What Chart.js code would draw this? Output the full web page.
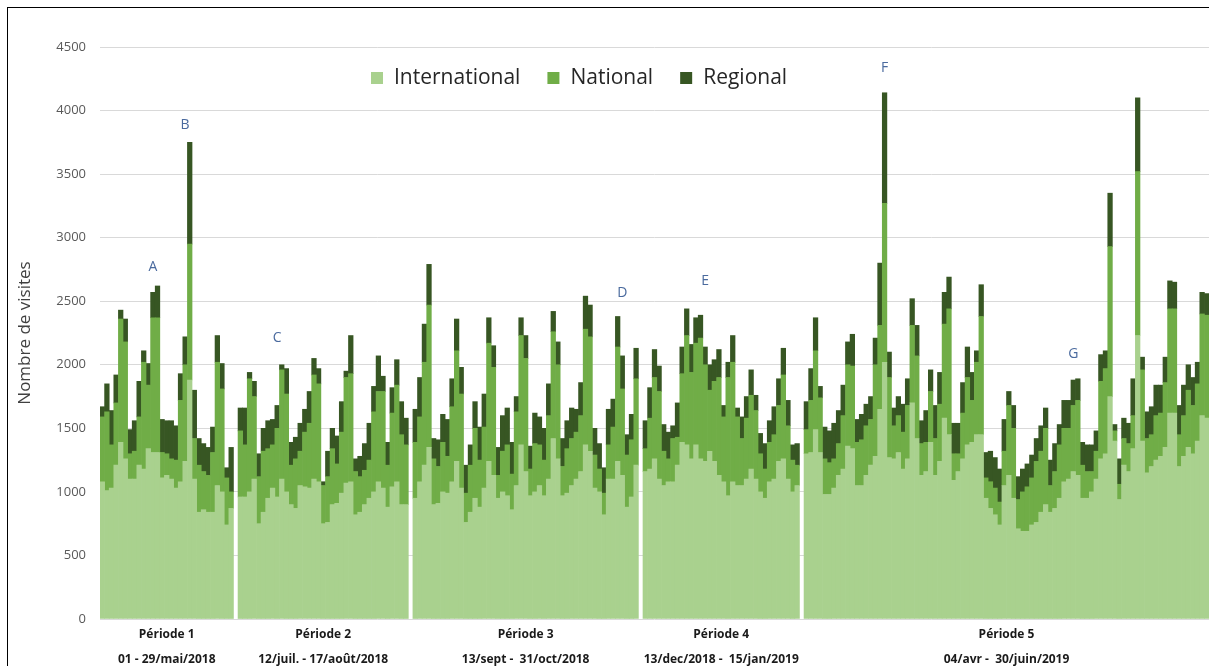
<!DOCTYPE html>
<html>
<head>
<meta charset="utf-8">
<script src="https://cdn.jsdelivr.net/npm/chart.js@4.4.0/dist/chart.umd.min.js"></script>
<style>
  html, body { margin: 0; padding: 0; background: #fff; overflow: hidden; }
  #wrap { position: absolute; left: 0; top: 0; width: 1209px; height: 666px; }
  #frame { position: absolute; left: 7px; top: 7px; width: 1400px; height: 900px;
           border-left: 1px solid #000; border-top: 1px solid #000; pointer-events: none; }
</style>
</head>
<body>
<div id="wrap"><canvas id="visitsChart" width="1209" height="666"></canvas></div>
<div id="frame"></div>
<script>
// Periods (categories are the days of each period)
const periodNames = ['Période 1', 'Période 2', 'Période 3', 'Période 4', 'Période 5'];
const periodRanges = ['01 - 29/mai/2018', '12/juil. - 17/août/2018', '13/sept -  31/oct/2018',
                      '13/dec/2018 -  15/jan/2019', '04/avr -  30/juin/2019'];
const periodStarts = ['2018-05-01', '2018-07-12', '2018-09-13', '2018-12-13', '2019-04-04'];

const seriesNames = ['International', 'National', 'Regional'];

// daily visits, one array per period
const internationalP1 = [1080,1010,1030,1210,1390,1260,1100,1100,1210,1180,1340,1310,1310,1110,1130,1100,1030,1080,1240,1880,1100,840,860,840,840,1050,1000,740,870];
const nationalP1      = [510,620,340,490,970,920,200,220,380,840,500,1060,1060,200,170,160,220,640,760,1070,320,370,300,290,470,970,810,370,130];
const regionalP1      = [80,220,270,220,70,180,190,240,280,90,170,200,250,260,260,300,270,210,220,800,380,210,220,220,200,210,200,80,350];

const internationalP2 = [960,960,1000,1100,750,840,950,1030,960,1100,1000,900,870,1050,1040,1030,1100,1080,750,760,900,910,990,1070,1080,820,840,900,950,1000,1080,1030,880,1040,1080,900,900];
const nationalP2      = [520,410,890,650,370,480,390,340,540,860,770,310,390,270,430,510,820,770,300,360,440,310,480,830,850,340,280,270,300,630,710,760,330,580,760,550,470];
const regionalP2      = [180,290,50,120,180,180,220,200,180,40,200,180,170,220,180,250,130,120,30,200,160,220,240,50,300,100,160,210,290,200,280,120,180,200,200,260,210];

const internationalP3 = [950,1080,1210,1350,900,910,1000,990,1080,1240,1030,760,840,950,880,1030,1240,1130,950,1000,970,860,1050,1370,1160,970,1000,1050,970,1100,1420,1260,970,990,1050,1100,1160,1370,1320,1030,1000,820,1100,1100,1240,1130,880,960,1210];
const nationalP3      = [440,510,810,1120,360,290,390,290,590,870,740,230,370,550,370,480,930,850,180,320,400,280,580,860,890,210,380,320,280,500,840,740,230,350,370,370,440,910,900,260,180,170,270,410,900,680,410,450,680];
const regionalP3      = [260,310,300,320,160,210,220,290,220,250,210,220,160,210,260,260,200,170,220,280,290,250,120,140,180,180,240,220,250,250,160,180,220,220,240,180,260,260,250,210,200,200,280,220,240,260,160,200,240];

const internationalP4 = [1160,1180,1260,1100,1050,1080,1080,1210,1390,1370,1260,1370,1260,1240,1320,1240,1130,1080,970,1080,1050,1050,1100,1180,1100,1000,950,1080,1100,1240,1260,1100,1000,1050];
const nationalP4      = [180,400,640,690,270,180,340,220,540,860,680,800,950,760,480,630,770,510,930,940,540,370,480,580,540,300,230,310,350,440,660,420,250,160];
const regionalP4      = [220,240,220,200,210,210,100,270,210,210,220,200,180,140,200,170,220,90,120,210,70,170,170,200,120,160,200,170,220,210,210,200,120,170];

const internationalP5 = [1300,1310,1490,1310,980,980,1030,1130,1180,1360,
                         1340,1050,1050,1130,1210,1280,1650,2020,1270,1260,
                         1310,1180,1260,1700,1420,1130,1160,1390,1130,1240,
                         1580,1450,1090,1160,1260,1370,1390,1450,1450,950,
                         870,820,740,1050,1130,950,710,690,690,740,
                         760,840,900,840,870,950,1080,1100,1160,1130,
                         950,950,1000,1100,1260,1300,1750,1400,940,1210,
                         1160,1340,2230,1400,1150,1200,1250,1280,1350,1620,
                         1620,1200,1280,1350,1300,1400,1600,1580];
const nationalP5      = [190,410,620,430,280,250,230,250,420,640,
                         650,340,360,390,360,720,660,1250,630,260,
                         290,290,420,610,650,250,230,400,290,450,
                         740,990,210,140,360,530,330,570,930,160,
                         210,210,180,270,550,550,230,310,350,370,
                         480,480,600,210,290,420,420,400,520,590,
                         260,210,160,220,610,670,1180,80,120,210,
                         220,260,1290,560,270,250,350,340,510,820,
                         820,250,320,450,380,450,800,810];
const regionalP5      = [220,250,260,90,250,250,280,260,240,180,
                         250,180,200,170,180,210,490,870,200,140,
                         150,220,210,210,240,180,250,170,260,250,
                         250,250,240,240,240,240,220,90,250,200,
                         240,240,260,250,110,180,180,180,180,180,
                         180,200,160,200,220,160,220,220,200,170,
                         180,210,210,160,210,140,420,50,200,160,
                         160,290,580,100,210,220,240,220,200,220,
                         210,230,240,200,220,170,170,170];

// letters written above some peaks: [period, day of period, height in visits]
const markerLabels = ['A', 'B', 'C', 'D', 'E', 'F', 'G'];
const markerPeriod = [0, 0, 1, 2, 3, 4, 4];
const markerDay    = [11, 18, 8, 45, 13, 17, 58];
const markerValue  = [2770, 3890, 2210, 2565, 2660, 4335, 2085];

const international = [internationalP1, internationalP2, internationalP3, internationalP4, internationalP5];
const national = [nationalP1, nationalP2, nationalP3, nationalP4, nationalP5];
const regional = [regionalP1, regionalP2, regionalP3, regionalP4, regionalP5];

// build the day labels, with one empty slot between periods
const labels = [];
const periodFirst = [];
const periodLast = [];
periodStarts.forEach((start, p) => {
    if (p > 0) labels.push('');
    periodFirst.push(labels.length);
    const d0 = new Date(start + 'T00:00:00Z');
    for (let i = 0; i < international[p].length; i++) {
        const d = new Date(d0.getTime() + i * 86400000);
        labels.push(String(d.getUTCDate()).padStart(2, '0') + '/' +
                    String(d.getUTCMonth() + 1).padStart(2, '0') + '/' + d.getUTCFullYear());
    }
    periodLast.push(labels.length - 1);
});

function joinPeriods(parts) {
    const out = [];
    parts.forEach((arr, p) => {
        if (p > 0) out.push(null);
        out.push(...arr);
    });
    return out;
}

const overlayPlugin = {
    id: 'overlay',
    afterDraw(chart) {
        const ctx = chart.ctx;
        const xs = chart.scales.x;
        const ys = chart.scales.y;
        ctx.save();

        // legend
        ctx.font = '21px "Open Sans"';
        ctx.textBaseline = 'middle';
        ctx.textAlign = 'left';
        let lx = 371;
        const ly = 78;
        chart.data.datasets.forEach(ds => {
            ctx.fillStyle = ds.backgroundColor;
            ctx.fillRect(lx, ly - 6, 12, 12);
            lx += 23;
            ctx.fillStyle = '#262626';
            ctx.fillText(ds.label, lx, ly);
            lx += ctx.measureText(ds.label).width + 27;
        });

        // peak letters
        ctx.font = '14px "Open Sans"';
        ctx.fillStyle = '#4a6a9e';
        ctx.textAlign = 'center';
        markerLabels.forEach((m, i) => {
            const idx = periodFirst[markerPeriod[i]] + markerDay[i];
            ctx.fillText(m, xs.getPixelForValue(idx), ys.getPixelForValue(markerValue[i]));
        });

        // period captions under the axis
        ctx.font = 'bold 12px "Open Sans"';
        ctx.fillStyle = '#1a1a1a';
        periodNames.forEach((name, p) => {
            const cx = (xs.getPixelForValue(periodFirst[p]) + xs.getPixelForValue(periodLast[p])) / 2;
            ctx.fillText(name, cx, 635);
            ctx.fillText(periodRanges[p], cx, 660);
        });
        ctx.restore();
    }
};

const ctx = document.getElementById('visitsChart').getContext('2d');
const colors = ['#a9d18e', '#70ad47', '#375623'];
const seriesData = [international, national, regional];

const chart = new Chart(ctx, {
    type: 'bar',
    data: {
        labels: labels,
        datasets: seriesNames.map((name, i) => ({
            label: name,
            data: joinPeriods(seriesData[i]),
            backgroundColor: colors[i],
            borderWidth: 0,
            barPercentage: 1,
            categoryPercentage: 1
        }))
    },
    options: {
        responsive: false,
        animation: false,
        devicePixelRatio: 1,
        layout: { padding: { top: 47, right: 0, bottom: 47, left: 0 } },
        plugins: {
            legend: { display: false },
            tooltip: { enabled: false }
        },
        scales: {
            x: {
                stacked: true,
                display: false
            },
            y: {
                stacked: true,
                min: 0,
                max: 4500,
                afterFit: scale => { scale.width = 100; },
                border: { display: false },
                grid: { color: '#d9d9d9', lineWidth: 1, drawTicks: false },
                ticks: {
                    stepSize: 500,
                    padding: 14,
                    color: '#595959',
                    font: { family: 'Open Sans', size: 13 },
                    callback: v => String(v)
                },
                title: {
                    display: true,
                    text: 'Nombre de visites',
                    color: '#404040',
                    font: { family: 'Open Sans', size: 17 },
                    padding: { top: 15, bottom: 0 }
                }
            }
        }
    },
    plugins: [overlayPlugin]
});
</script>
</body>
</html>
